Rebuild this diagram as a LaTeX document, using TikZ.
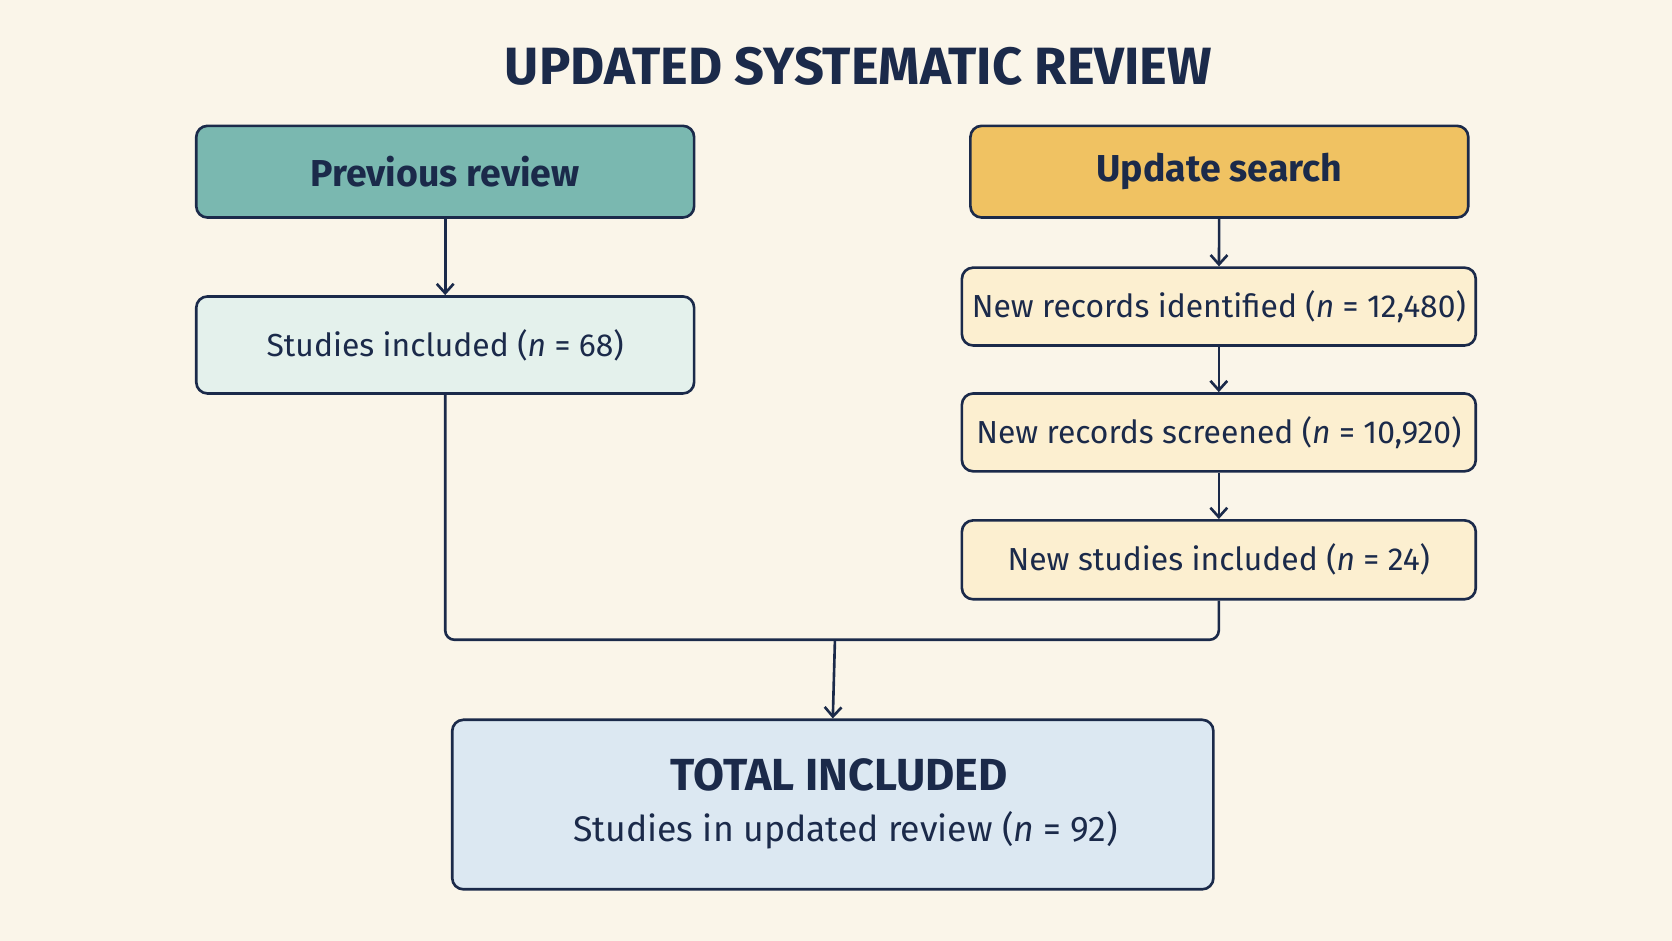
\documentclass[tikz,border=0pt]{standalone}
\usepackage{fontspec}
\setmainfont{Fira Sans}
\usetikzlibrary{positioning,arrows.meta}
\definecolor{navy}{HTML}{1B2A4A}
\definecolor{paper}{HTML}{FAF5E9}
\definecolor{teal}{HTML}{7AB8B0}
\definecolor{gold}{HTML}{F0C262}
\definecolor{mint}{HTML}{E4F1EC}
\definecolor{cream}{HTML}{FCEFD0}
\definecolor{sky}{HTML}{DCE8F2}
\tikzset{
  box/.style={draw=navy,line width=1.4pt,rounded corners=6pt,text=navy,align=center},
  link/.style={draw=navy,line width=1.4pt,-{Straight Barb[length=5pt,width=9pt]}}
}
\begin{document}
\begin{tikzpicture}[x=0.02cm,y=-0.02cm]
  \fill[paper] (0,0) rectangle (1568,882);
  \useasboundingbox (0,0) rectangle (1568,882);
  \node[text=navy,font=\bfseries\fontsize{28}{32}\selectfont] (title) at (805,62) {UPDATED SYSTEMATIC REVIEW};
  % left branch
  \node[box,fill=teal,minimum width=9.34cm,minimum height=1.72cm,font=\fontsize{20}{24}\selectfont\bfseries] (prev) at (417.5,161) {Previous review};
  \node[box,fill=mint,minimum width=9.34cm,minimum height=1.82cm,font=\fontsize{17}{20}\selectfont] (old) at (417.5,323.5) {Studies included (\textit{n} = 68)};
  % right branch
  \node[box,fill=gold,minimum width=9.34cm,minimum height=1.72cm,font=\fontsize{20}{24}\selectfont\bfseries] (upd) at (1143.5,161) {Update search};
  \node[box,fill=cream,minimum width=9.64cm,minimum height=1.46cm,font=\fontsize{17}{20}\selectfont] (ident) at (1143,287.5) {New records identified (\textit{n} = 12,480)};
  \node[box,fill=cream,minimum width=9.64cm,minimum height=1.46cm,font=\fontsize{17}{20}\selectfont] (scr) at (1143,405.5) {New records screened (\textit{n} = 10,920)};
  \node[box,fill=cream,minimum width=9.64cm,minimum height=1.48cm,font=\fontsize{17}{20}\selectfont] (new) at (1143,525) {New studies included (\textit{n} = 24)};
  % total
  \node[box,fill=sky,minimum width=14.28cm,minimum height=3.18cm] (tot) at (781,754.5) {};
  \node[text=navy,font=\bfseries\fontsize{24}{28}\selectfont] (totl) at (787,727) {TOTAL INCLUDED};
  \node[text=navy,font=\fontsize{19}{22}\selectfont] (tots) at (793,779) {Studies in updated review (\textit{n} = 92)};
  \coordinate (join) at (783,600);
  \draw[link] (prev) -- (old);
  \draw[link] (upd) -- (ident);
  \draw[link] (ident) -- (scr);
  \draw[link] (scr) -- (new);
  \draw[navy,line width=1.4pt,rounded corners=5pt] (old.south) |- (join) -| (new.south);
  \draw[link] (join) -- (tot.north);
\end{tikzpicture}
\end{document}
